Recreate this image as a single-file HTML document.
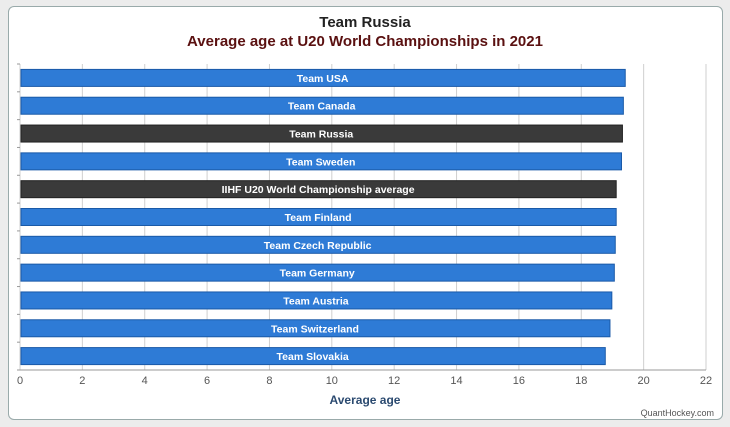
<!DOCTYPE html>
<html><head><meta charset="utf-8"><style>
body{margin:0;background:#ececec;font-family:"Liberation Sans",Arial,sans-serif}
#wrap{position:absolute;left:8px;top:6px;width:713px;height:412px;background:#fff;border:1px solid #9aa;border-radius:6px}
</style></head><body>
<div id="wrap"></div>
<svg id="c" width="730" height="427" style="position:absolute;left:0;top:0">
<text x="365" y="27" text-anchor="middle" font-size="15" font-weight="bold" fill="#222">Team Russia</text>
<text x="365" y="46" text-anchor="middle" font-size="15" font-weight="bold" fill="#5a1010">Average age at U20 World Championships in 2021</text>
<text x="365" y="404" text-anchor="middle" font-size="12" font-weight="bold" fill="#2b4a70">Average age</text>
<text x="714" y="416" text-anchor="end" font-size="9" fill="#555">QuantHockey.com</text>
<g id="grid"></g><g id="bars"></g><g id="ticks"></g>
</svg>
<script>
const categories=["Team USA","Team Canada","Team Russia","Team Sweden","IIHF U20 World Championship average","Team Finland","Team Czech Republic","Team Germany","Team Austria","Team Switzerland","Team Slovakia"];
const values=[19.41,19.35,19.32,19.29,19.12,19.12,19.09,19.06,18.98,18.92,18.77];
const highlight=[false,false,true,false,true,false,false,false,false,false,false];
const xTicks=[0,2,4,6,8,10,12,14,16,18,20,22];
const NS="http://www.w3.org/2000/svg";
const x0=20,x1=706,yTop=64,yBot=370;
const xs=v=>x0+(x1-x0)*v/22;
const band=(yBot-yTop)/categories.length;
function mk(t,a,p){const e=document.createElementNS(NS,t);for(const k in a)e.setAttribute(k,a[k]);p.appendChild(e);return e;}
const g=document.getElementById('grid'),b=document.getElementById('bars'),tk=document.getElementById('ticks');
xTicks.forEach(v=>{
 const l=mk('line',{x1:xs(v),x2:xs(v),y1:yTop,y2:yBot,stroke:'#cfcfcf','stroke-width':1},g);
 
 
 const t=mk('text',{x:xs(v),y:yBot+14,'text-anchor':'middle','font-size':11,fill:'#555'},tk);
 t.textContent=v;
 
 
});
mk('line',{x1:x0,x2:x1,y1:yBot,y2:yBot,stroke:'#999'},g);
for(let i=0;i<=categories.length;i++){mk('line',{x1:x0-3,x2:x0,y1:yTop+i*band,y2:yTop+i*band,stroke:'#999'},g);}
categories.forEach((c,i)=>{
 const y=yTop+i*band+(band-17)/2;
 const r=mk('rect',{x:x0+1,y:y,width:xs(values[i])-x0-1,height:17,fill:highlight[i]?'#3a3a3a':'#2e7bd6',stroke:highlight[i]?'#222':'#1a5aa8','stroke-width':1},b);
 
 
 const t=mk('text',{x:(x0+xs(values[i]))/2,y:y+12.5,'text-anchor':'middle','font-size':10.5,'font-weight':'bold',fill:'#fff'},b);
 t.textContent=c;
 
 
});
</script>
</body></html>
